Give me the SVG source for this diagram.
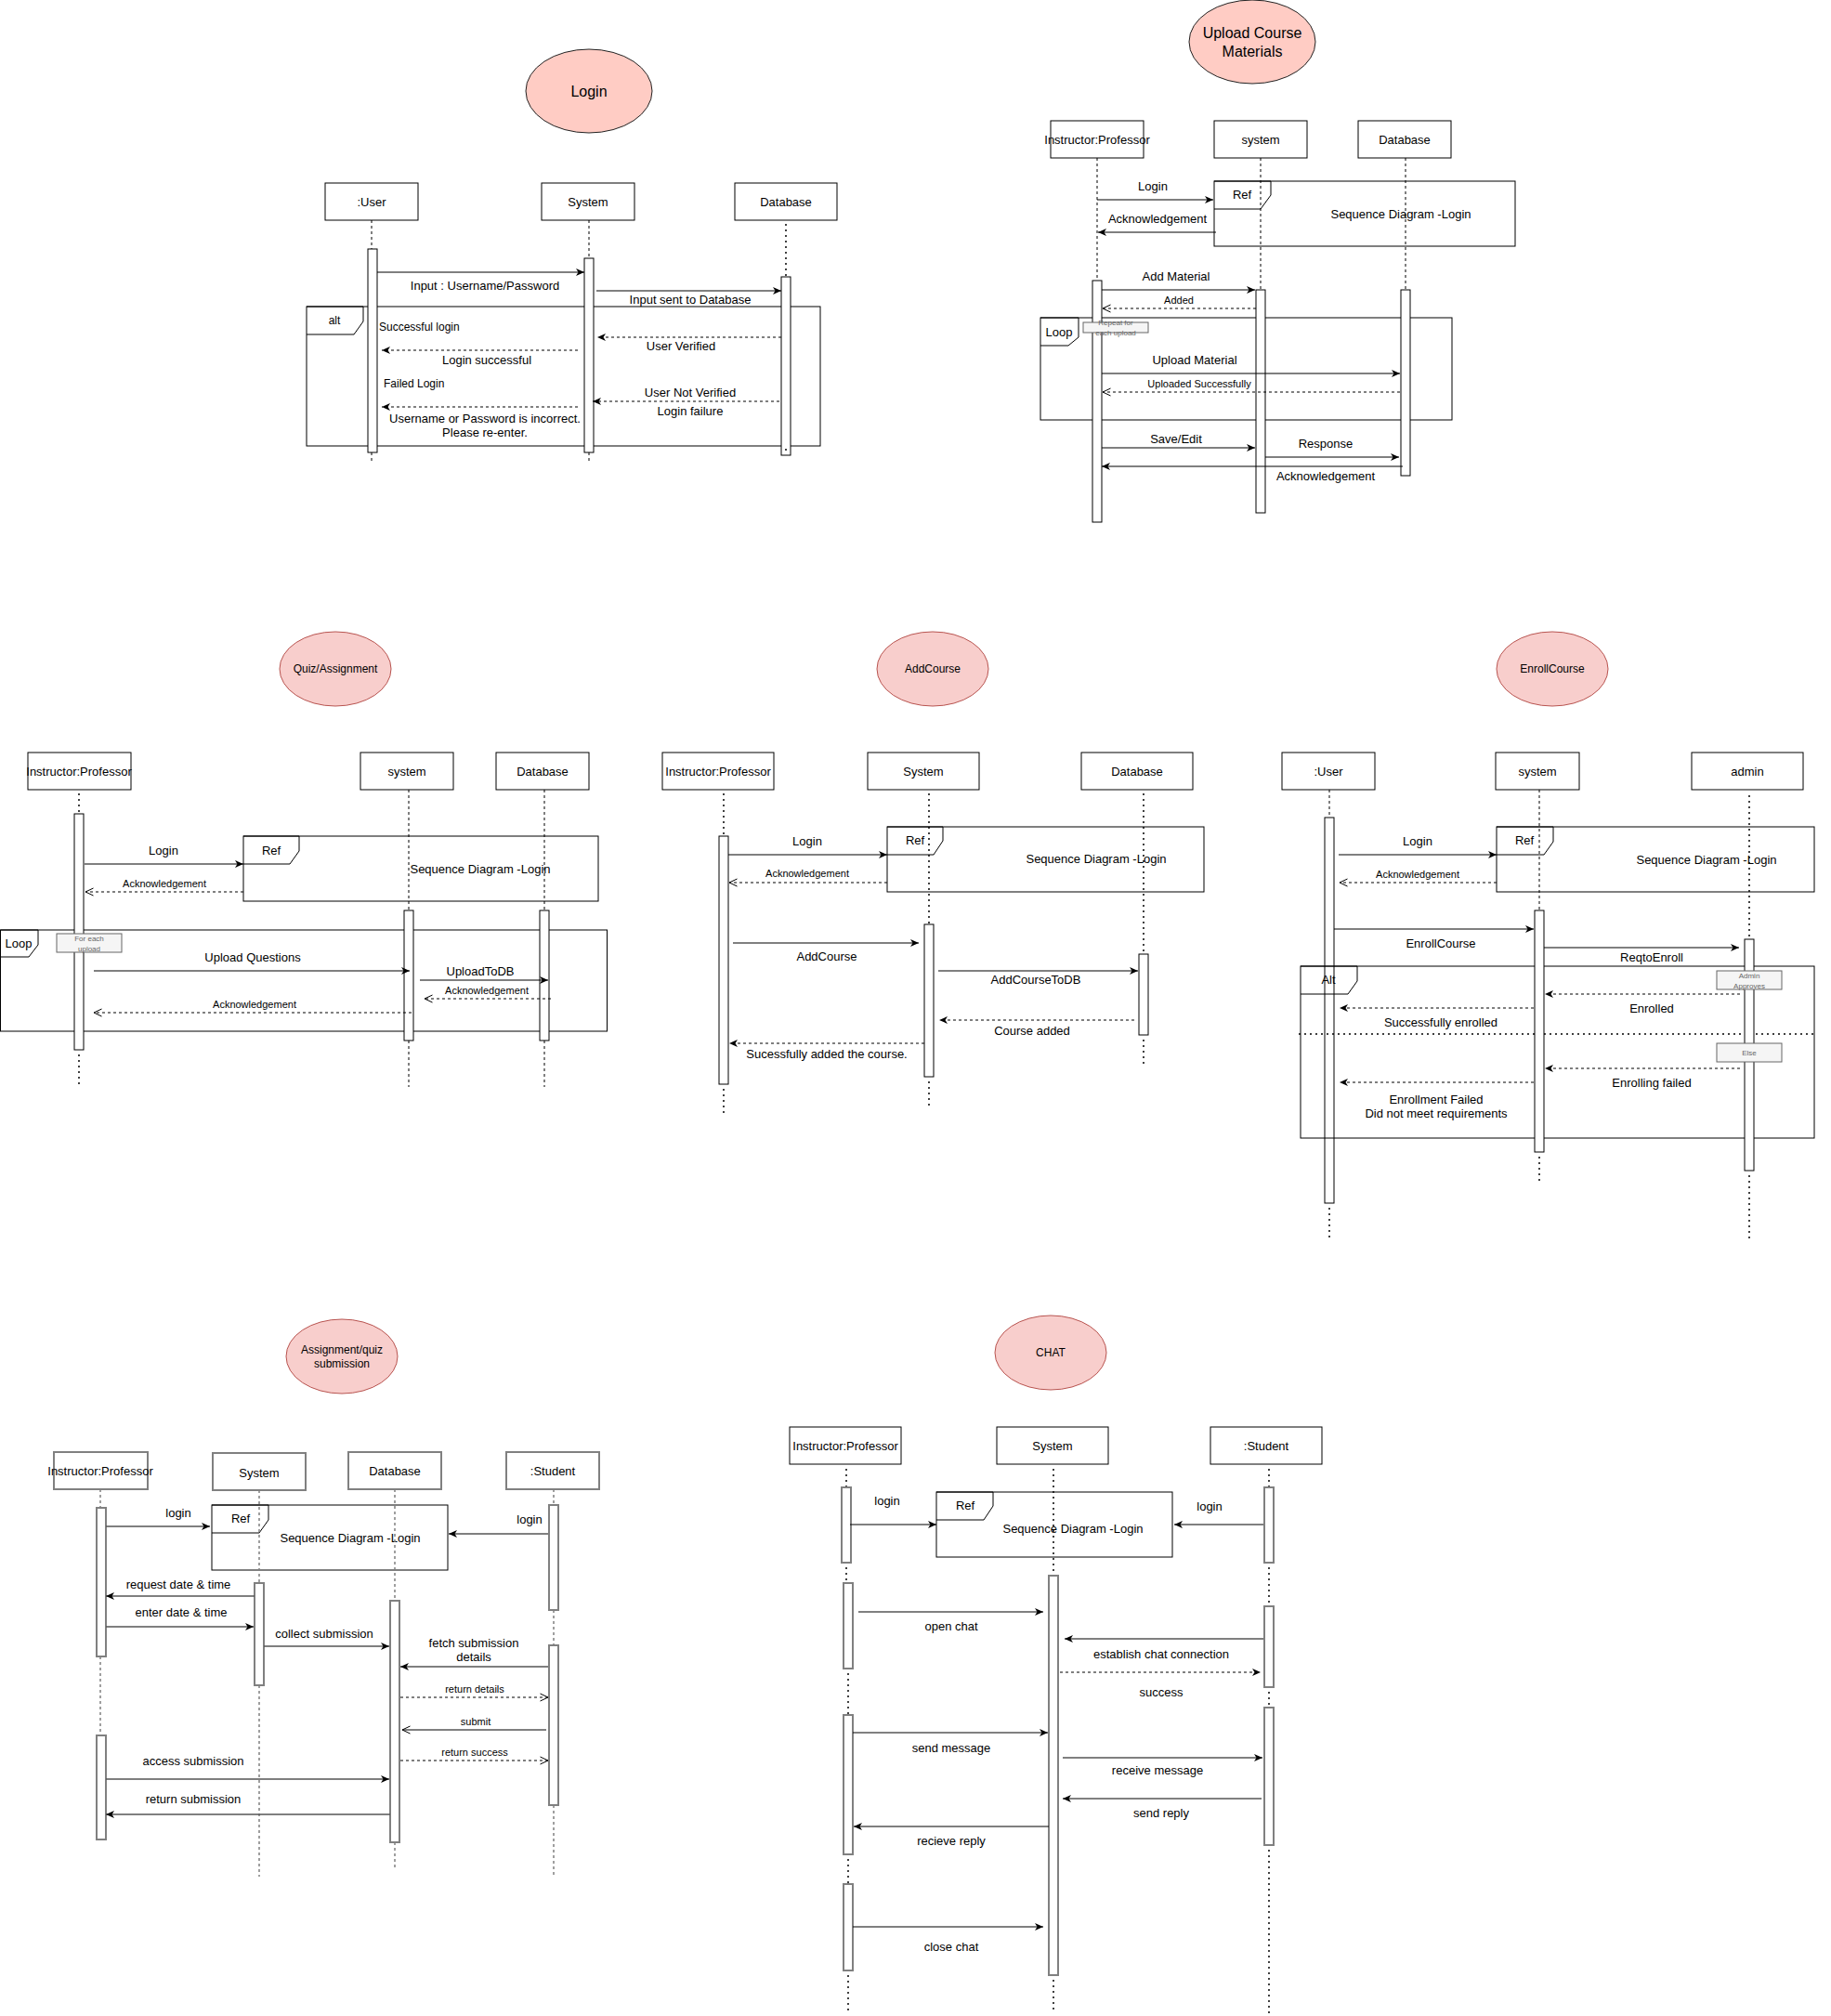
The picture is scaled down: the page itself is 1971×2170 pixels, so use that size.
<svg xmlns="http://www.w3.org/2000/svg" width="1971" height="2170" viewBox="0 0 1971 2170">
<style>
text{font-family:"Liberation Sans",Arial,Helvetica,sans-serif;font-size:13px;fill:#000;text-anchor:middle;dominant-baseline:central}
.s{font-size:11px}
.l{text-anchor:start;font-size:12px}
.h{font-size:16px}
.m{font-size:12px}
.nt{font-size:8px;fill:#666}
.box{fill:#fff;stroke:#000;stroke-width:1}
.boxg{fill:#fff;stroke:#808080;stroke-width:2}
.act{fill:#fff;stroke:#000;stroke-width:1}
.actg{fill:#fff;stroke:#808080;stroke-width:2}
.frame{fill:none;stroke:#000;stroke-width:1}
.ell1{fill:#ffccc4;stroke:#222;stroke-width:1}
.ell2{fill:#f8cecc;stroke:#b85450;stroke-width:1}
.dash{stroke:#000;stroke-width:1;stroke-dasharray:3 3;fill:none}
.dashg{stroke:#808080;stroke-width:1.5;stroke-dasharray:3 3;fill:none}
.dot{stroke:#000;stroke-width:2;stroke-dasharray:0 6;stroke-linecap:round;fill:none}
.msg{stroke:#000;stroke-width:1;fill:none;marker-end:url(#blk)}
.msgg{stroke:#555;stroke-width:1.5;fill:none;marker-end:url(#blk)}
.ret{stroke:#000;stroke-width:1;stroke-dasharray:3 3;fill:none;marker-end:url(#blk)}
.reto{stroke:#000;stroke-width:1;stroke-dasharray:3 3;fill:none;marker-end:url(#opn)}
.sopen{stroke:#000;stroke-width:1;fill:none;marker-end:url(#opn)}
.note{fill:#f5f5f5;stroke:#666;stroke-width:1}
</style>
<defs>
<marker id="blk" markerUnits="userSpaceOnUse" markerWidth="9" markerHeight="8" viewBox="0 0 9 8" refX="9" refY="4" orient="auto"><path d="M0,0 L9,4 L0,8 L2.5,4 z" fill="#000"/></marker>
<marker id="opn" markerUnits="userSpaceOnUse" markerWidth="10" markerHeight="10" viewBox="0 0 10 10" refX="9.5" refY="5" orient="auto"><path d="M1,1 L9.5,5 L1,9" fill="none" stroke="#000" stroke-width="1"/></marker>
</defs>
<rect width="1971" height="2170" fill="#fff"/>

<!-- ================= LOGIN ================= -->
<g id="login-title"><ellipse class="ell1" cx="634" cy="98" rx="68" ry="45"/><text class="h" x="634" y="98">Login</text></g>
<g id="login-alt"><rect class="frame" x="330" y="330" width="553" height="150"/><path class="frame" d="M330,330 H391 V346 L381,360 H330"/><text class="m" x="360" y="345">alt</text><text class="l" x="408" y="352">Successful login</text><circle cx="401" cy="410" r="2.5" fill="#000"/><text class="l" x="413" y="413">Failed Login</text></g>
<g id="login-user"><rect class="box" x="350" y="197" width="100" height="40"/><text x="400" y="217">:User</text><line class="dash" x1="400" y1="237" x2="400" y2="268"/><line class="dash" x1="400" y1="487" x2="400" y2="498"/><rect class="act" x="396" y="268" width="10" height="219"/></g>
<g id="login-system"><rect class="box" x="583" y="197" width="100" height="40"/><text x="633" y="217">System</text><line class="dash" x1="634" y1="237" x2="634" y2="278"/><line class="dash" x1="634" y1="487" x2="634" y2="498"/><rect class="act" x="629" y="278" width="10" height="209"/></g>
<g id="login-database"><rect class="box" x="791" y="197" width="110" height="40"/><text x="846" y="217">Database</text><line class="dot" x1="846" y1="242" x2="846" y2="298"/><rect class="act" x="841" y="298" width="10" height="192"/><circle cx="846" cy="484" r="1" fill="#000"/></g>
<g id="login-connectors">
<line class="msg" x1="406" y1="293" x2="629" y2="293"/><text x="522" y="307">Input : Username/Password</text>
<line class="msg" x1="642" y1="313" x2="841" y2="313"/><text x="743" y="322">Input sent to Database</text>
<line class="ret" x1="841" y1="363" x2="643" y2="363"/><text x="733" y="372">User Verified</text>
<line class="ret" x1="622" y1="377" x2="411" y2="377"/><text x="524" y="387">Login successful</text>
<text x="743" y="422">User Not Verified</text>
<line class="ret" x1="839" y1="432" x2="638" y2="432"/><text x="743" y="442">Login failure</text>
<line class="ret" x1="622" y1="438" x2="411" y2="438"/><text x="522" y="450">Username or Password is incorrect.</text><text x="522" y="465">Please re-enter.</text>
</g>

<!-- ================= UPLOAD COURSE MATERIALS ================= -->
<g id="upload-title"><ellipse class="ell1" cx="1348" cy="45" rx="68" ry="45"/><text class="h" x="1348" y="35">Upload Course</text><text class="h" x="1348" y="55">Materials</text></g>
<g id="upload-ref"><rect class="frame" x="1307" y="195" width="324" height="70"/><path class="frame" d="M1307,195 H1368 V210 L1357,225 H1307"/><text x="1337" y="209">Ref</text><text x="1508" y="230">Sequence Diagram -Login</text></g>
<g id="upload-loop"><rect class="frame" x="1120" y="342" width="443" height="110"/><path class="frame" d="M1120,342 H1161 V363 L1150,372 H1120"/><text x="1140" y="357">Loop</text></g>
<g id="upload-instructor"><rect class="box" x="1131" y="130" width="100" height="40"/><text x="1181" y="150">Instructor:Professor</text><line class="dash" x1="1181" y1="170" x2="1181" y2="302"/><rect class="act" x="1176" y="302" width="10" height="260"/></g>
<g id="upload-system"><rect class="box" x="1307" y="130" width="100" height="40"/><text x="1357" y="150">system</text><line class="dash" x1="1357" y1="170" x2="1357" y2="312"/><rect class="act" x="1352" y="312" width="10" height="240"/></g>
<g id="upload-database"><rect class="box" x="1462" y="130" width="100" height="40"/><text x="1512" y="150">Database</text><line class="dash" x1="1513" y1="170" x2="1513" y2="312"/><rect class="act" x="1508" y="312" width="10" height="200"/></g>
<g id="upload-note"><rect class="note" x="1166" y="347" width="70" height="11"/><text class="nt" x="1201" y="347">Repeat for</text><text class="nt" x="1201" y="358">each upload</text></g>
<g id="upload-connectors">
<line class="msg" x1="1181" y1="215" x2="1306" y2="215"/><text x="1241" y="200">Login</text>
<line class="msg" x1="1309" y1="250" x2="1182" y2="250"/><text x="1246" y="235">Acknowledgement</text>
<line class="msg" x1="1186" y1="312" x2="1351" y2="312"/><text x="1266" y="297">Add Material</text>
<line class="reto" x1="1352" y1="332" x2="1187" y2="332"/><text class="s" x="1269" y="323">Added</text>
<line class="msg" x1="1186" y1="402" x2="1507" y2="402"/><text x="1286" y="387">Upload Material</text>
<line class="reto" x1="1507" y1="422" x2="1187" y2="422"/><text class="s" x="1291" y="413">Uploaded Successfully</text>
<line class="msg" x1="1186" y1="482" x2="1351" y2="482"/><text x="1266" y="472">Save/Edit</text>
<line class="msg" x1="1362" y1="492" x2="1506" y2="492"/><text x="1427" y="477">Response</text>
<line class="msg" x1="1510" y1="502" x2="1186" y2="502"/><text x="1427" y="512">Acknowledgement</text>
</g>

<!-- ================= QUIZ / ASSIGNMENT ================= -->
<g id="quiz-title"><ellipse class="ell2" cx="361" cy="720" rx="60" ry="40"/><text class="m" x="361" y="720">Quiz/Assignment</text></g>
<g id="quiz-ref"><rect class="frame" x="262" y="900" width="382" height="70"/><path class="frame" d="M262,900 H322 V916 L312,930 H262"/><text x="292" y="915">Ref</text><text x="517" y="935">Sequence Diagram -Login</text></g>
<g id="quiz-loop"><rect class="frame" x="0.5" y="1001" width="653" height="109"/><path class="frame" d="M0.5,1001 H41 V1017 L31,1030 H0.5"/><text x="20" y="1015">Loop</text></g>
<g id="quiz-instructor"><rect class="box" x="30" y="810" width="111" height="40"/><text x="85" y="830">Instructor:Professor</text><line class="dot" x1="85" y1="855" x2="85" y2="876"/><line class="dot" x1="85" y1="1136" x2="85" y2="1170"/><rect class="act" x="80" y="876" width="10" height="254"/></g>
<g id="quiz-system"><rect class="box" x="388" y="810" width="100" height="40"/><text x="438" y="830">system</text><line class="dash" x1="440" y1="850" x2="440" y2="980"/><line class="dash" x1="440" y1="1120" x2="440" y2="1170"/><rect class="act" x="435" y="980" width="10" height="140"/></g>
<g id="quiz-database"><rect class="box" x="534" y="810" width="100" height="40"/><text x="584" y="830">Database</text><line class="dash" x1="586" y1="850" x2="586" y2="980"/><line class="dash" x1="586" y1="1120" x2="586" y2="1170"/><rect class="act" x="581" y="980" width="10" height="140"/></g>
<g id="quiz-note"><rect class="note" x="61" y="1005" width="70" height="20"/><text class="nt" x="96" y="1010">For each</text><text class="nt" x="96" y="1021">upload</text></g>
<g id="quiz-connectors">
<line class="msg" x1="91" y1="930" x2="262" y2="930"/><text x="176" y="915">Login</text>
<line class="reto" x1="262" y1="960" x2="92" y2="960"/><text class="s" x="177" y="951">Acknowledgement</text>
<line class="msg" x1="101" y1="1045" x2="441" y2="1045"/><text x="272" y="1030">Upload Questions</text>
<line class="msg" x1="452" y1="1055" x2="590" y2="1055"/><text x="517" y="1045">UploadToDB</text>
<line class="reto" x1="593" y1="1075" x2="457" y2="1075"/><text class="s" x="524" y="1066">Acknowledgement</text>
<line class="reto" x1="443" y1="1090" x2="101" y2="1090"/><text class="s" x="274" y="1081">Acknowledgement</text>
</g>

<!-- ================= ADD COURSE ================= -->
<g id="add-title"><ellipse class="ell2" cx="1004" cy="720" rx="60" ry="40"/><text class="m" x="1004" y="720">AddCourse</text></g>
<g id="add-ref"><rect class="frame" x="955" y="890" width="341" height="70"/><path class="frame" d="M955,890 H1015 V905 L1005,920 H955"/><text x="985" y="904">Ref</text><text x="1180" y="924">Sequence Diagram -Login</text></g>
<g id="add-instructor"><rect class="box" x="713" y="810" width="120" height="40"/><text x="773" y="830">Instructor:Professor</text><line class="dot" x1="779" y1="855" x2="779" y2="900"/><line class="dot" x1="779" y1="1173" x2="779" y2="1201"/><rect class="act" x="774" y="900" width="10" height="267"/></g>
<g id="add-system"><rect class="box" x="934" y="810" width="120" height="40"/><text x="994" y="830">System</text><line class="dot" x1="1000" y1="855" x2="1000" y2="995"/><line class="dot" x1="1000" y1="1165" x2="1000" y2="1190"/><rect class="act" x="995" y="995" width="10" height="164"/></g>
<g id="add-database"><rect class="box" x="1164" y="810" width="120" height="40"/><text x="1224" y="830">Database</text><line class="dot" x1="1231" y1="855" x2="1231" y2="1027"/><line class="dot" x1="1231" y1="1120" x2="1231" y2="1150"/><rect class="act" x="1226" y="1027" width="10" height="87"/></g>
<g id="add-connectors">
<line class="msg" x1="784" y1="920" x2="955" y2="920"/><text x="869" y="905">Login</text>
<line class="reto" x1="955" y1="950" x2="785" y2="950"/><text class="s" x="869" y="940">Acknowledgement</text>
<line class="msg" x1="789" y1="1015" x2="989" y2="1015"/><text x="890" y="1029">AddCourse</text>
<line class="msg" x1="1010" y1="1045" x2="1225" y2="1045"/><text x="1115" y="1054">AddCourseToDB</text>
<line class="ret" x1="1221" y1="1098" x2="1011" y2="1098"/><text x="1111" y="1109">Course added</text>
<line class="ret" x1="995" y1="1123" x2="785" y2="1123"/><text x="890" y="1134">Sucessfully added the course.</text>
</g>

<!-- ================= ENROLL COURSE ================= -->
<g id="enroll-title"><ellipse class="ell2" cx="1671" cy="720" rx="60" ry="40"/><text class="m" x="1671" y="720">EnrollCourse</text></g>
<g id="enroll-ref"><rect class="frame" x="1611" y="890" width="342" height="70"/><path class="frame" d="M1611,890 H1672 V906 L1662,920 H1611"/><text x="1641" y="904">Ref</text><text x="1837" y="925">Sequence Diagram -Login</text></g>
<g id="enroll-user"><rect class="box" x="1380" y="810" width="100" height="40"/><text x="1430" y="830">:User</text><line class="dash" x1="1431" y1="850" x2="1431" y2="880"/><line class="dot" x1="1431" y1="1301" x2="1431" y2="1335"/><rect class="act" x="1426" y="880" width="10" height="415"/></g>
<g id="enroll-alt"><rect class="frame" x="1400" y="1040" width="553" height="185"/><path class="frame" d="M1400,1040 H1461 V1056 L1451,1070 H1400"/><text x="1430" y="1054">Alt</text><line class="dot" x1="1399" y1="1113" x2="1953" y2="1113"/></g>
<g id="enroll-system"><rect class="box" x="1610" y="810" width="90" height="40"/><text x="1655" y="830">system</text><line class="dash" x1="1657" y1="850" x2="1657" y2="980"/><line class="dot" x1="1657" y1="1246" x2="1657" y2="1275"/><rect class="act" x="1652" y="980" width="10" height="260"/></g>
<g id="enroll-admin"><rect class="box" x="1821" y="810" width="120" height="40"/><text x="1881" y="830">admin</text><line class="dot" x1="1883" y1="857" x2="1883" y2="1011"/><line class="dot" x1="1883" y1="1266" x2="1883" y2="1335"/><rect class="act" x="1878" y="1011" width="10" height="249"/></g>
<g id="enroll-note-approves"><rect class="note" x="1848" y="1045" width="70" height="20"/><text class="nt" x="1883" y="1050">Admin</text><text class="nt" x="1883" y="1061">Approves</text></g>
<g id="enroll-note-else"><rect class="note" x="1848" y="1123" width="70" height="20"/><text class="nt" x="1883" y="1133">Else</text></g>
<g id="enroll-connectors">
<line class="msg" x1="1441" y1="920" x2="1611" y2="920"/><text x="1526" y="905">Login</text>
<line class="reto" x1="1611" y1="950" x2="1442" y2="950"/><text class="s" x="1526" y="941">Acknowledgement</text>
<line class="msg" x1="1436" y1="1000" x2="1651" y2="1000"/><text x="1551" y="1015">EnrollCourse</text>
<line class="msg" x1="1662" y1="1020" x2="1872" y2="1020"/><text x="1778" y="1030">ReqtoEnroll</text>
<line class="ret" x1="1873" y1="1070" x2="1663" y2="1070"/><text x="1778" y="1085">Enrolled</text>
<line class="ret" x1="1651" y1="1085" x2="1442" y2="1085"/><text x="1551" y="1100">Successfully enrolled</text>
<line class="ret" x1="1873" y1="1150" x2="1663" y2="1150"/><text x="1778" y="1165">Enrolling failed</text>
<line class="ret" x1="1651" y1="1165" x2="1442" y2="1165"/><text x="1546" y="1183">Enrollment Failed</text><text x="1546" y="1198">Did not meet requirements</text>
</g>

<!-- ================= ASSIGNMENT / QUIZ SUBMISSION ================= -->
<g id="sub-title"><ellipse class="ell2" cx="368" cy="1460" rx="60" ry="40"/><text class="m" x="368" y="1453">Assignment/quiz</text><text class="m" x="368" y="1468">submission</text></g>
<g id="sub-ref"><rect class="frame" x="228" y="1620" width="254" height="70"/><path class="frame" d="M228,1620 H289 V1636 L279,1650 H228"/><text x="259" y="1634">Ref</text><text x="377" y="1655">Sequence Diagram -Login</text></g>
<g id="sub-instructor"><rect class="boxg" x="58" y="1563" width="101" height="40"/><text x="108" y="1583">Instructor:Professor</text><line class="dashg" x1="108" y1="1603" x2="108" y2="1623"/><line class="dashg" x1="108" y1="1783" x2="108" y2="1868"/><rect class="actg" x="104" y="1623" width="10" height="160"/><rect class="actg" x="104" y="1868" width="10" height="112"/></g>
<g id="sub-system"><rect class="boxg" x="229" y="1564" width="100" height="40"/><text x="279" y="1585">System</text><line class="dashg" x1="279" y1="1604" x2="279" y2="1704"/><line class="dashg" x1="279" y1="1814" x2="279" y2="2020"/><rect class="actg" x="274" y="1704" width="10" height="110"/></g>
<g id="sub-database"><rect class="boxg" x="375" y="1563" width="100" height="40"/><text x="425" y="1583">Database</text><line class="dashg" x1="425" y1="1603" x2="425" y2="1723"/><line class="dashg" x1="425" y1="1983" x2="425" y2="2013"/><rect class="actg" x="420" y="1723" width="10" height="260"/></g>
<g id="sub-student"><rect class="boxg" x="545" y="1563" width="100" height="40"/><text x="595" y="1583">:Student</text><line class="dashg" x1="596" y1="1603" x2="596" y2="1620"/><line class="dashg" x1="596" y1="1733" x2="596" y2="1771"/><line class="dashg" x1="596" y1="1943" x2="596" y2="2018"/><rect class="actg" x="591" y="1620" width="10" height="113"/><rect class="actg" x="591" y="1771" width="10" height="172"/></g>
<g id="sub-connectors">
<line class="msgg" x1="114" y1="1643" x2="226" y2="1643"/><text x="192" y="1628">login</text>
<line class="msgg" x1="590" y1="1651" x2="483" y2="1651"/><text x="570" y="1635">login</text>
<line class="msgg" x1="274" y1="1718" x2="114" y2="1718"/><text x="192" y="1705">request date &amp; time</text>
<line class="msgg" x1="114" y1="1751" x2="273" y2="1751"/><text x="195" y="1735">enter date &amp; time</text>
<line class="msgg" x1="284" y1="1772" x2="419" y2="1772"/><text x="349" y="1758">collect submission</text>
<line class="msgg" x1="590" y1="1794" x2="431" y2="1794"/><text x="510" y="1768">fetch submission</text><text x="510" y="1783">details</text>
<line class="reto" x1="431" y1="1827" x2="590" y2="1827"/><text class="s" x="511" y="1818">return details</text>
<line class="sopen" x1="588" y1="1862" x2="433" y2="1862"/><text class="s" x="512" y="1853">submit</text>
<line class="reto" x1="431" y1="1895" x2="590" y2="1895"/><text class="s" x="511" y="1886">return success</text>
<line class="msgg" x1="114" y1="1915" x2="419" y2="1915"/><text x="208" y="1895">access submission</text>
<line class="msgg" x1="420" y1="1953" x2="114" y2="1953"/><text x="208" y="1936">return submission</text>
</g>

<!-- ================= CHAT ================= -->
<g id="chat-title"><ellipse class="ell2" cx="1131" cy="1456" rx="60" ry="40"/><text class="m" x="1131" y="1456">CHAT</text></g>
<g id="chat-ref"><rect class="frame" x="1008" y="1606" width="254" height="70"/><path class="frame" d="M1008,1606 H1069 V1621 L1059,1636 H1008"/><text x="1039" y="1620">Ref</text><text x="1155" y="1645">Sequence Diagram -Login</text></g>
<g id="chat-instructor"><rect class="box" x="850" y="1536" width="120" height="40"/><text x="910" y="1556">Instructor:Professor</text>
<line class="dot" x1="911" y1="1582" x2="911" y2="1601"/><line class="dot" x1="911" y1="1688" x2="911" y2="1704"/><line class="dot" x1="913" y1="1802" x2="913" y2="1846"/><line class="dot" x1="913" y1="2002" x2="913" y2="2028"/><line class="dot" x1="913" y1="2127" x2="913" y2="2168"/>
<rect class="actg" x="906" y="1601" width="10" height="81"/><rect class="actg" x="908" y="1704" width="10" height="92"/><rect class="actg" x="908" y="1846" width="10" height="150"/><rect class="actg" x="908" y="2028" width="10" height="93"/></g>
<g id="chat-system"><rect class="box" x="1073" y="1536" width="120" height="40"/><text x="1133" y="1556">System</text><line class="dot" x1="1134" y1="1582" x2="1134" y2="1696"/><line class="dot" x1="1134" y1="2132" x2="1134" y2="2168"/><rect class="actg" x="1129" y="1696" width="10" height="430"/></g>
<g id="chat-student"><rect class="box" x="1303" y="1536" width="120" height="40"/><text x="1363" y="1556">:Student</text>
<line class="dot" x1="1366" y1="1582" x2="1366" y2="1601"/><line class="dot" x1="1366" y1="1688" x2="1366" y2="1729"/><line class="dot" x1="1366" y1="1822" x2="1366" y2="1838"/><line class="dot" x1="1366" y1="1992" x2="1366" y2="2168"/>
<rect class="actg" x="1361" y="1601" width="10" height="81"/><rect class="actg" x="1361" y="1729" width="10" height="87"/><rect class="actg" x="1361" y="1838" width="10" height="148"/></g>
<g id="chat-connectors">
<line class="msg" x1="915" y1="1641" x2="1008" y2="1641"/><text x="955" y="1615">login</text>
<line class="msg" x1="1360" y1="1641" x2="1264" y2="1641"/><text x="1302" y="1621">login</text>
<line class="msg" x1="924" y1="1735" x2="1123" y2="1735"/><text x="1024" y="1750">open chat</text>
<line class="msg" x1="1360" y1="1764" x2="1146" y2="1764"/><text x="1250" y="1780">establish chat connection</text>
<line class="ret" x1="1141" y1="1800" x2="1357" y2="1800"/><text x="1250" y="1821">success</text>
<line class="msg" x1="918" y1="1865" x2="1128" y2="1865"/><text x="1024" y="1881">send message</text>
<line class="msg" x1="1144" y1="1892" x2="1359" y2="1892"/><text x="1246" y="1905">receive message</text>
<line class="msg" x1="1358" y1="1936" x2="1144" y2="1936"/><text x="1250" y="1951">send reply</text>
<line class="msg" x1="1129" y1="1966" x2="919" y2="1966"/><text x="1024" y="1981">recieve reply</text>
<line class="msg" x1="918" y1="2074" x2="1123" y2="2074"/><text x="1024" y="2095">close chat</text>
</g>
</svg>
